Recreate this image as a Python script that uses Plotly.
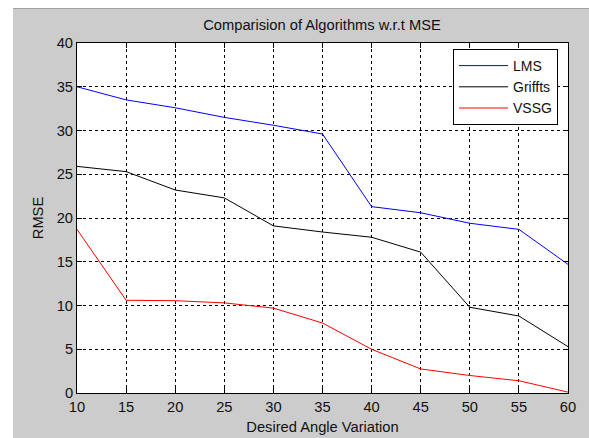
import plotly.graph_objects as go

angles = [10, 15, 20, 25, 30, 35, 40, 45, 50, 55, 60]
lms = [35.0, 33.5, 32.6, 31.5, 30.6, 29.6, 21.3, 20.6, 19.4, 18.7, 14.7]
griffts = [25.9, 25.3, 23.2, 22.3, 19.1, 18.4, 17.8, 16.1, 9.8, 8.8, 5.3]
vssg = [18.7, 10.6, 10.55, 10.3, 9.7, 8.0, 5.0, 2.75, 2.0, 1.4, 0.1]

series = [("LMS", lms, "#0000ff"), ("Griffts", griffts, "#000000"), ("VSSG", vssg, "#ff0000")]

W, H = 589, 438
L, R, T, B = 77, 21, 43, 45
pw, ph = W - L - R, H - T - B

fig = go.Figure()
for name, vals, col in series:
    fig.add_trace(go.Scatter(x=angles, y=vals, mode="lines", name=name,
                             line=dict(color=col, width=1)))

font = "Liberation Sans, Arial, sans-serif"
fs = 14.7
txtcol = "#111111"
axis_common = dict(showline=True, linecolor="black", linewidth=1, mirror="ticks",
                   ticks="inside", ticklen=5, tickcolor="black", automargin=False,
                   showgrid=True, gridcolor="black", griddash="3px,3px", gridwidth=1,
                   zeroline=False, tickfont=dict(family=font, size=fs, color=txtcol))

fig.update_xaxes(range=[10, 60], tickvals=list(range(10, 61, 5)),
                 title=dict(text="Desired Angle Variation", font=dict(family=font, size=fs, color=txtcol), standoff=8),
                 **axis_common)
fig.update_yaxes(range=[0, 40], tickvals=list(range(0, 41, 5)),
                 title=dict(text="RMSE", font=dict(family=font, size=fs, color=txtcol), standoff=9),
                 **axis_common)

# white strips at left and top of the figure window
shapes = [
    dict(type="rect", xref="paper", yref="paper", x0=(0 - L) / pw, x1=(13 - L) / pw,
         y0=-(B + 5) / ph, y1=1 + (T + 5) / ph, fillcolor="white", line=dict(width=0), layer="below"),
    dict(type="rect", xref="paper", yref="paper", x0=(0 - L) / pw, x1=1 + (R + 5) / pw,
         y0=1 + (T - 8) / ph, y1=1 + (T + 5) / ph, fillcolor="white", line=dict(width=0), layer="below"),
    dict(type="line", xref="paper", yref="paper", x0=(13 - L) / pw, x1=1 + (R + 5) / pw,
         y0=1 + (T - 8.5) / ph, y1=1 + (T - 8.5) / ph, line=dict(color="#a0a0a0", width=1), layer="below"),
]

fig.update_layout(
    width=W, height=H,
    margin=dict(l=L, r=R, t=T, b=B, pad=0, autoexpand=False),
    paper_bgcolor="#cccccc", plot_bgcolor="white",
    title=dict(text="Comparision of Algorithms w.r.t MSE", x=(322 / W), xanchor="center",
               y=1 - 25 / H, yanchor="middle", font=dict(family=font, size=fs, color=txtcol)),
    legend=dict(x=(453 - L) / pw, y=(H - B - 49) / ph, xanchor="left", yanchor="top",
                bgcolor="white", bordercolor="black", borderwidth=1, itemwidth=49,
                font=dict(family=font, size=14, color=txtcol), tracegroupgap=0),
    shapes=shapes,
    showlegend=True,
)

fig.write_html("out.html")
